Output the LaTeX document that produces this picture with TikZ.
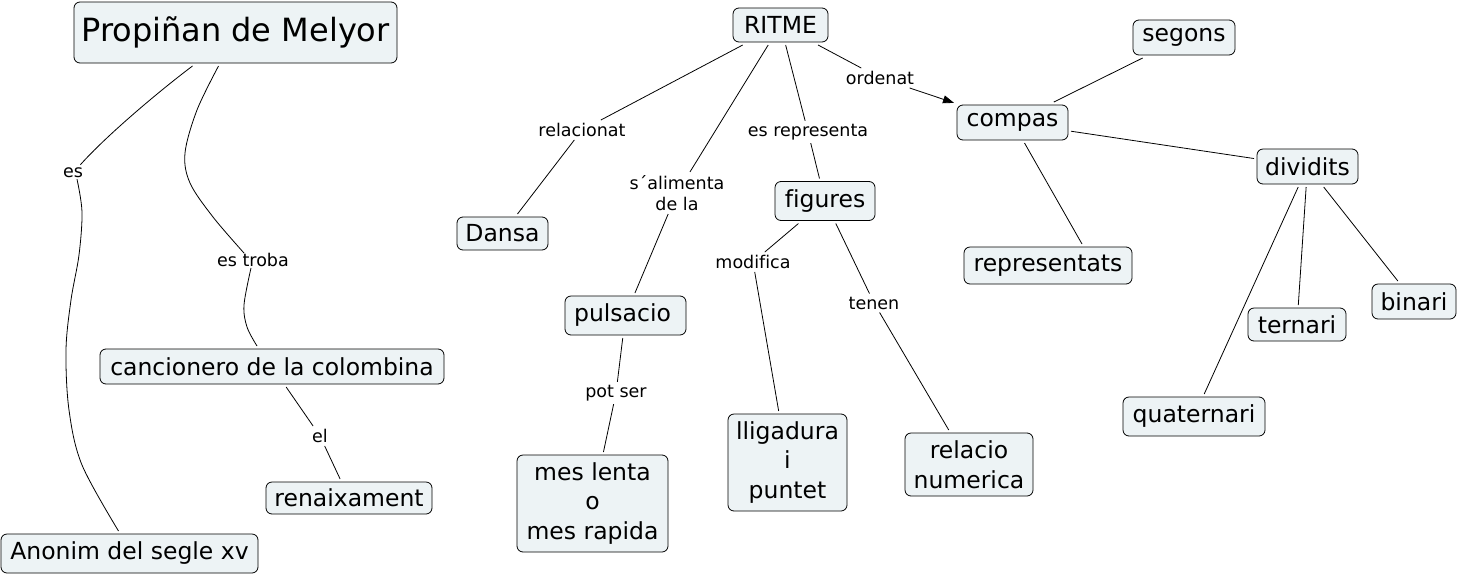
\documentclass[tikz,border=0pt]{standalone}
\usepackage{fontspec}
\setmainfont[Ligatures=NoCommon]{DejaVu Sans}
\usetikzlibrary{arrows.meta,calc}
\definecolor{boxfill}{RGB}{237,243,245}
\begin{document}
\begin{tikzpicture}[x=1pt,y=-1pt,
  cbox/.style={draw, rounded corners=6pt, fill=boxfill, inner sep=0pt, outer sep=3pt,
     line width=0.8pt, align=center, font=\fontsize{23.5}{29.5}\selectfont},
  lbl/.style={inner sep=3pt, align=center, font=\fontsize{17.5}{21.5}\selectfont},
  conn/.style={line width=0.8pt},
]
\useasboundingbox (0,0) rectangle (1459,576);
% concept boxes
\node[cbox, minimum width=323pt, minimum height=61pt, font=\fontsize{32}{37}\selectfont] (prop) at (235.5,32.5) {Propiñan de Melyor};
\node[cbox, minimum width=95pt, minimum height=34pt] (ritme) at (780.5,25) {RITME};
\node[cbox, minimum width=111pt, minimum height=35pt] (compas) at (1012.5,122.5) {compas};
\node[cbox, minimum width=102pt, minimum height=35pt] (segons) at (1184,37.5) {segons};
\node[cbox, minimum width=101pt, minimum height=35pt] (dividits) at (1307.5,166.5) {dividits};
\node[cbox, minimum width=168pt, minimum height=37pt] (repr) at (1048,265.5) {representats};
\node[cbox, minimum width=98pt, minimum height=33pt] (ternari) at (1297,324.5) {ternari};
\node[cbox, minimum width=84pt, minimum height=35pt] (binari) at (1414,301.5) {binari};
\node[cbox, minimum width=142pt, minimum height=39pt] (quat) at (1194,416.5) {quaternari};
\node[cbox, minimum width=91pt, minimum height=33pt] (dansa) at (502.5,233.5) {Dansa};
\node[cbox, minimum width=100pt, minimum height=39pt] (figures) at (825,201) {figures};
\node[cbox, minimum width=121pt, minimum height=39pt] (puls) at (625.5,315.5) {pulsacio\hspace{6pt}};
\node[cbox, minimum width=151pt, minimum height=97pt] (mes) at (592.5,503.5) {mes lenta\\o\\mes rapida};
\node[cbox, minimum width=119pt, minimum height=97pt] (llig) at (787.5,462.5) {lligadura\\i\\puntet};
\node[cbox, minimum width=128pt, minimum height=63pt] (relacio) at (969,464.5) {relacio\\numerica};
\node[cbox, minimum width=344pt, minimum height=35pt] (canc) at (272,366.5) {cancionero de la colombina};
\node[cbox, minimum width=166pt, minimum height=32pt] (renaix) at (349,498) {renaixament};
\node[cbox, minimum width=257pt, minimum height=39pt] (anon) at (129.5,553.5) {Anonim del segle xv};
% linking phrases
\node[lbl] (les) at (73,173) {es};
\node[lbl] (lestroba) at (253,260) {es troba};
\node[lbl] (lel) at (320,436) {el};
\node[lbl] (lrel) at (582,130) {relacionat};
\node[lbl] (lsal) at (677,193) {s´alimenta\\de la};
\node[lbl] (lesrep) at (808,132) {es representa};
\node[lbl] (lord) at (880,78) {ordenat};
\node[lbl] (lmod) at (753,262) {modifica};
\node[lbl] (lten) at (874,303) {tenen};
\node[lbl] (lpot) at (616,393) {pot ser};
% helper coordinates
\coordinate (pa) at ($(prop.south)+(-43,0)$);
\coordinate (pb) at ($(prop.south)+(-17,0)$);
\coordinate (esb) at ($(les.south)+(4,-2)$);
\coordinate (ana) at ($(anon.north)+(-11,0)$);
\coordinate (etb) at ($(lestroba.south)+(-2,-2)$);
\coordinate (cna) at ($(canc.north)+(-15,0)$);
\coordinate (ets) at ($(lestroba.north)+(-9,3)$);
\coordinate (cs) at ($(compas.south)+(12,0)$);
\coordinate (rn) at ($(repr.north)+(34,0)$);
% connectors
\draw[conn] (pa) .. controls (158,92) and (106,136) .. (les);
\draw[conn] plot[smooth, tension=0.55] coordinates {(esb) (82,212) (79,255) (71,300) (66,350) (69,410) (82,465) (ana)};
\draw[conn] plot[smooth, tension=0.55] coordinates {(pb) (197,110) (185,153) (190,183) (213,217) (ets)};
\draw[conn] plot[smooth, tension=0.55] coordinates {(etb) (244,305) (247,327) (cna)};
\draw[conn] (canc) -- (lel);
\draw[conn] (lel) -- (renaix);
\draw[conn] (ritme) -- (lrel);
\draw[conn] (lrel) -- (dansa);
\draw[conn] (ritme) -- (lsal);
\draw[conn] (lsal) -- (puls);
\draw[conn] (ritme) -- (lesrep);
\draw[conn] (lesrep) -- (figures);
\draw[conn] (ritme) -- (lord);
\draw[conn, -{Triangle[length=11pt,width=8pt]}] (lord) -- (compas);
\draw[conn] (figures) -- (lmod);
\draw[conn] (lmod) -- (llig);
\draw[conn] (figures) -- (lten);
\draw[conn] (lten) -- (relacio);
\draw[conn] (puls) -- (lpot);
\draw[conn] (lpot) -- (mes);
\draw[conn] (compas) -- (segons);
\draw[conn] (compas) -- (dividits);
\draw[conn] (cs) -- (rn);
\draw[conn] (dividits) -- (quat);
\draw[conn] (dividits) -- (ternari);
\draw[conn] (dividits) -- (binari);
\end{tikzpicture}
\end{document}
